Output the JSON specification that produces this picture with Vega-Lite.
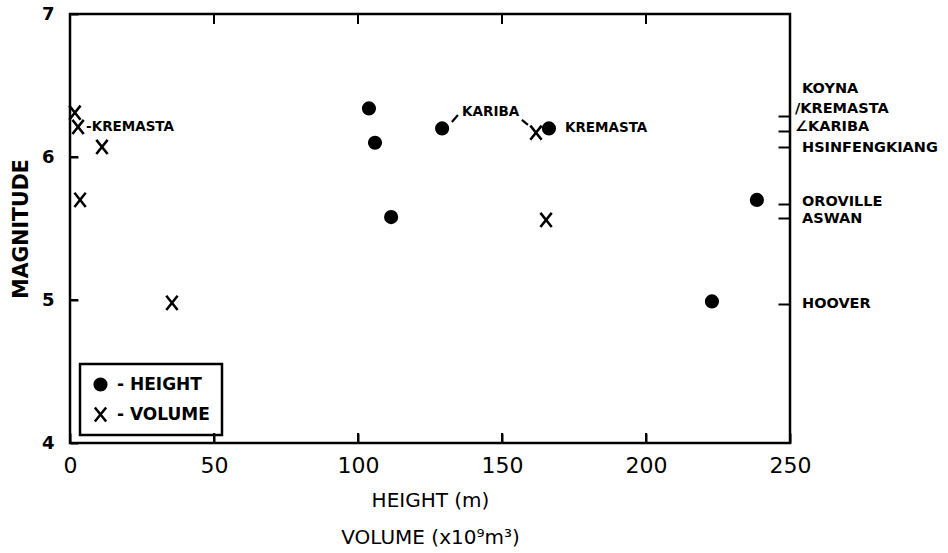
{
  "$schema": "https://vega.github.io/schema/vega-lite/v6.json",
  "width": 720,
  "height": 429,
  "autosize": {"type": "none"},
  "padding": {"left": 70, "top": 14, "right": 158, "bottom": 110},
  "background": "white",
  "config": {
    "view": {"stroke": "black", "strokeWidth": 2.5},
    "font": "DejaVu Sans",
    "legend": {"strokeWidth": 2.5},
    "axis": {"tickColor": "black", "tickWidth": 2}
  },
  "resolve": {"axis": {"x": "independent", "y": "independent"}},
  "datasets": {
    "dams": [
      {"type": "HEIGHT", "value": 103.8, "magnitude": 6.34, "dam": "KOYNA"},
      {"type": "HEIGHT", "value": 105.9, "magnitude": 6.10, "dam": "HSINFENGKIANG"},
      {"type": "HEIGHT", "value": 111.5, "magnitude": 5.58, "dam": "ASWAN"},
      {"type": "HEIGHT", "value": 129.2, "magnitude": 6.20, "dam": "KARIBA"},
      {"type": "HEIGHT", "value": 166.3, "magnitude": 6.20, "dam": "KREMASTA"},
      {"type": "HEIGHT", "value": 238.5, "magnitude": 5.70, "dam": "OROVILLE"},
      {"type": "HEIGHT", "value": 222.9, "magnitude": 4.99, "dam": "HOOVER"},
      {"type": "VOLUME", "value": 1.7, "magnitude": 6.31, "dam": "KOYNA"},
      {"type": "VOLUME", "value": 2.8, "magnitude": 6.21, "dam": "KREMASTA"},
      {"type": "VOLUME", "value": 11.1, "magnitude": 6.07, "dam": "HSINFENGKIANG"},
      {"type": "VOLUME", "value": 3.5, "magnitude": 5.70, "dam": "OROVILLE"},
      {"type": "VOLUME", "value": 35.4, "magnitude": 4.98, "dam": "HOOVER"},
      {"type": "VOLUME", "value": 161.8, "magnitude": 6.17, "dam": "KARIBA"},
      {"type": "VOLUME", "value": 165.3, "magnitude": 5.56, "dam": "ASWAN"}
    ],
    "rightLabels": [
      {"name": "KOYNA", "magnitude": 6.476, "prefixed": false},
      {"name": "/KREMASTA", "magnitude": 6.336, "prefixed": true},
      {"name": "∠KARIBA", "magnitude": 6.21, "prefixed": true},
      {"name": "HSINFENGKIANG", "magnitude": 6.065, "prefixed": false},
      {"name": "OROVILLE", "magnitude": 5.685, "prefixed": false},
      {"name": "ASWAN", "magnitude": 5.565, "prefixed": false},
      {"name": "HOOVER", "magnitude": 4.97, "prefixed": false}
    ],
    "leaders": [
      {"x": 132.6, "y": 6.245, "x2": 134.7, "y2": 6.294},
      {"x": 156.9, "y": 6.259, "x2": 159.0, "y2": 6.224}
    ],
    "xTicks": [{"v": 50}, {"v": 100}, {"v": 150}, {"v": 200}],
    "yTicks": [{"v": 5}, {"v": 6}]
  },
  "layer": [
    {
      "data": {"name": "dams"},
      "mark": {"type": "point", "filled": true, "color": "black", "strokeWidth": 0, "size": 200, "opacity": 1},
      "encoding": {
        "x": {
          "field": "value", "type": "quantitative",
          "scale": {"domain": [0, 250], "nice": false, "zero": false},
          "axis": {
            "orient": "bottom", "values": [0, 50, 100, 150, 200, 250],
            "tickSize": -10,
            "domain": false, "grid": false, "labelFlush": false,
            "labelFont": "DejaVu Sans", "labelFontSize": 22, "labelColor": "black", "labelPadding": 22,
            "title": ["HEIGHT (m)", "VOLUME (x10⁹m³)"],
            "titleFont": "DejaVu Sans", "titleFontSize": 20, "titleFontWeight": "normal", "titleColor": "black",
            "titleLineHeight": 37, "titlePadding": 14
          }
        },
        "y": {
          "field": "magnitude", "type": "quantitative",
          "scale": {"domain": [4, 7], "nice": false, "zero": false},
          "axis": {
            "orient": "left", "values": [4, 5, 6, 7],
            "tickSize": -8,
            "domain": false, "grid": false, "labelFlush": false,
            "labelFont": "DejaVu Sans", "labelFontSize": 18, "labelFontWeight": "bold", "labelColor": "black", "labelPadding": 24,
            "title": "MAGNITUDE",
            "titleFont": "DejaVu Sans", "titleFontSize": 20.5, "titleFontWeight": "bold", "titleColor": "black", "titlePadding": 10
          }
        },
        "shape": {
          "field": "type", "type": "nominal",
          "scale": {"domain": ["HEIGHT", "VOLUME"], "range": ["circle", "M-0.941,-0.888L0.659,1.113L0.941,0.888L-0.659,-1.113ZM-0.659,1.113L0.941,-0.888L0.659,-1.113L-0.941,0.888Z"]},
          "legend": {
            "orient": "none", "legendX": 10, "legendY": 350, "direction": "vertical",
            "title": null, "padding": 12, "rowPadding": 12,
            "strokeColor": "black",
            "symbolSize": 200, "symbolStrokeWidth": 0, "symbolFillColor": "black", "symbolOpacity": 1,
            "labelExpr": "'- ' + datum.label",
            "labelFont": "DejaVu Sans", "labelFontSize": 17, "labelFontWeight": "bold", "labelColor": "black", "labelOffset": 8
          }
        }
      }
    },
    {
      "data": {"name": "rightLabels"},
      "transform": [{"filter": "!datum.prefixed"}],
      "mark": {"type": "text", "align": "left", "baseline": "middle", "dx": 12, "font": "DejaVu Sans", "fontSize": 14.5, "fontWeight": "bold", "color": "black"},
      "encoding": {
        "x": {"datum": 250, "type": "quantitative", "scale": {"domain": [0, 250], "nice": false, "zero": false}, "axis": null},
        "y": {
          "field": "magnitude", "type": "quantitative",
          "scale": {"domain": [4, 7], "nice": false, "zero": false},
          "axis": {
            "orient": "right", "values": [6.29, 6.18, 6.07, 5.67, 5.57, 4.97], "labels": false,
            "tickSize": -12,
            "domain": false, "grid": false, "title": null
          }
        },
        "text": {"field": "name"}
      }
    },
    {
      "data": {"name": "xTicks"},
      "mark": {"type": "rule", "strokeWidth": 2, "color": "black"},
      "encoding": {
        "x": {"field": "v", "type": "quantitative", "scale": {"domain": [0, 250], "nice": false, "zero": false}, "axis": null},
        "y": {"datum": 4, "type": "quantitative", "scale": {"domain": [4, 7], "nice": false, "zero": false}, "axis": null},
        "y2": {"datum": 4.07}
      }
    },
    {
      "data": {"name": "xTicks"},
      "mark": {"type": "rule", "strokeWidth": 2, "color": "black"},
      "encoding": {
        "x": {"field": "v", "type": "quantitative", "scale": {"domain": [0, 250], "nice": false, "zero": false}, "axis": null},
        "y": {"datum": 7, "type": "quantitative", "scale": {"domain": [4, 7], "nice": false, "zero": false}, "axis": null},
        "y2": {"datum": 6.93}
      }
    },
    {
      "data": {"name": "yTicks"},
      "mark": {"type": "rule", "strokeWidth": 2, "color": "black"},
      "encoding": {
        "x": {"datum": 0, "type": "quantitative", "scale": {"domain": [0, 250], "nice": false, "zero": false}, "axis": null},
        "x2": {"datum": 2.8},
        "y": {"field": "v", "type": "quantitative", "scale": {"domain": [4, 7], "nice": false, "zero": false}, "axis": null}
      }
    },
    {
      "data": {"name": "leaders"},
      "mark": {"type": "rule", "color": "black", "strokeWidth": 2.2},
      "encoding": {
        "x": {"field": "x", "type": "quantitative", "scale": {"domain": [0, 250], "nice": false, "zero": false}, "axis": null},
        "y": {"field": "y", "type": "quantitative", "scale": {"domain": [4, 7], "nice": false, "zero": false}, "axis": null},
        "x2": {"field": "x2"},
        "y2": {"field": "y2"}
      }
    },
    {
      "data": {"name": "rightLabels"},
      "transform": [{"filter": "datum.prefixed"}],
      "mark": {"type": "text", "align": "left", "baseline": "middle", "dx": 5, "font": "DejaVu Sans", "fontSize": 14.5, "fontWeight": "bold", "color": "black"},
      "encoding": {
        "x": {"datum": 250, "type": "quantitative", "scale": {"domain": [0, 250], "nice": false, "zero": false}, "axis": null},
        "y": {"field": "magnitude", "type": "quantitative", "scale": {"domain": [4, 7], "nice": false, "zero": false}, "axis": null},
        "text": {"field": "name"}
      }
    },
    {
      "data": {"name": "dams"},
      "transform": [{"filter": "datum.type == 'VOLUME' && datum.dam == 'KREMASTA'"}],
      "mark": {"type": "text", "align": "left", "baseline": "middle", "dx": 8, "text": "-KREMASTA", "font": "DejaVu Sans", "fontSize": 13.5, "fontWeight": "bold", "color": "black"},
      "encoding": {
        "x": {"field": "value", "type": "quantitative", "scale": {"domain": [0, 250], "nice": false, "zero": false}, "axis": null},
        "y": {"field": "magnitude", "type": "quantitative", "scale": {"domain": [4, 7], "nice": false, "zero": false}, "axis": null}
      }
    },
    {
      "data": {"name": "dams"},
      "transform": [{"filter": "datum.type == 'HEIGHT' && datum.dam == 'KREMASTA'"}],
      "mark": {"type": "text", "align": "left", "baseline": "middle", "dx": 16, "text": "KREMASTA", "font": "DejaVu Sans", "fontSize": 13.5, "fontWeight": "bold", "color": "black"},
      "encoding": {
        "x": {"field": "value", "type": "quantitative", "scale": {"domain": [0, 250], "nice": false, "zero": false}, "axis": null},
        "y": {"field": "magnitude", "type": "quantitative", "scale": {"domain": [4, 7], "nice": false, "zero": false}, "axis": null}
      }
    },
    {
      "data": {"name": "dams"},
      "transform": [{"filter": "datum.type == 'HEIGHT' && datum.dam == 'KARIBA'"}],
      "mark": {"type": "text", "align": "left", "baseline": "middle", "dx": 20, "dy": -16, "text": "KARIBA", "font": "DejaVu Sans", "fontSize": 13.5, "fontWeight": "bold", "color": "black"},
      "encoding": {
        "x": {"field": "value", "type": "quantitative", "scale": {"domain": [0, 250], "nice": false, "zero": false}, "axis": null},
        "y": {"field": "magnitude", "type": "quantitative", "scale": {"domain": [4, 7], "nice": false, "zero": false}, "axis": null}
      }
    }
  ]
}
